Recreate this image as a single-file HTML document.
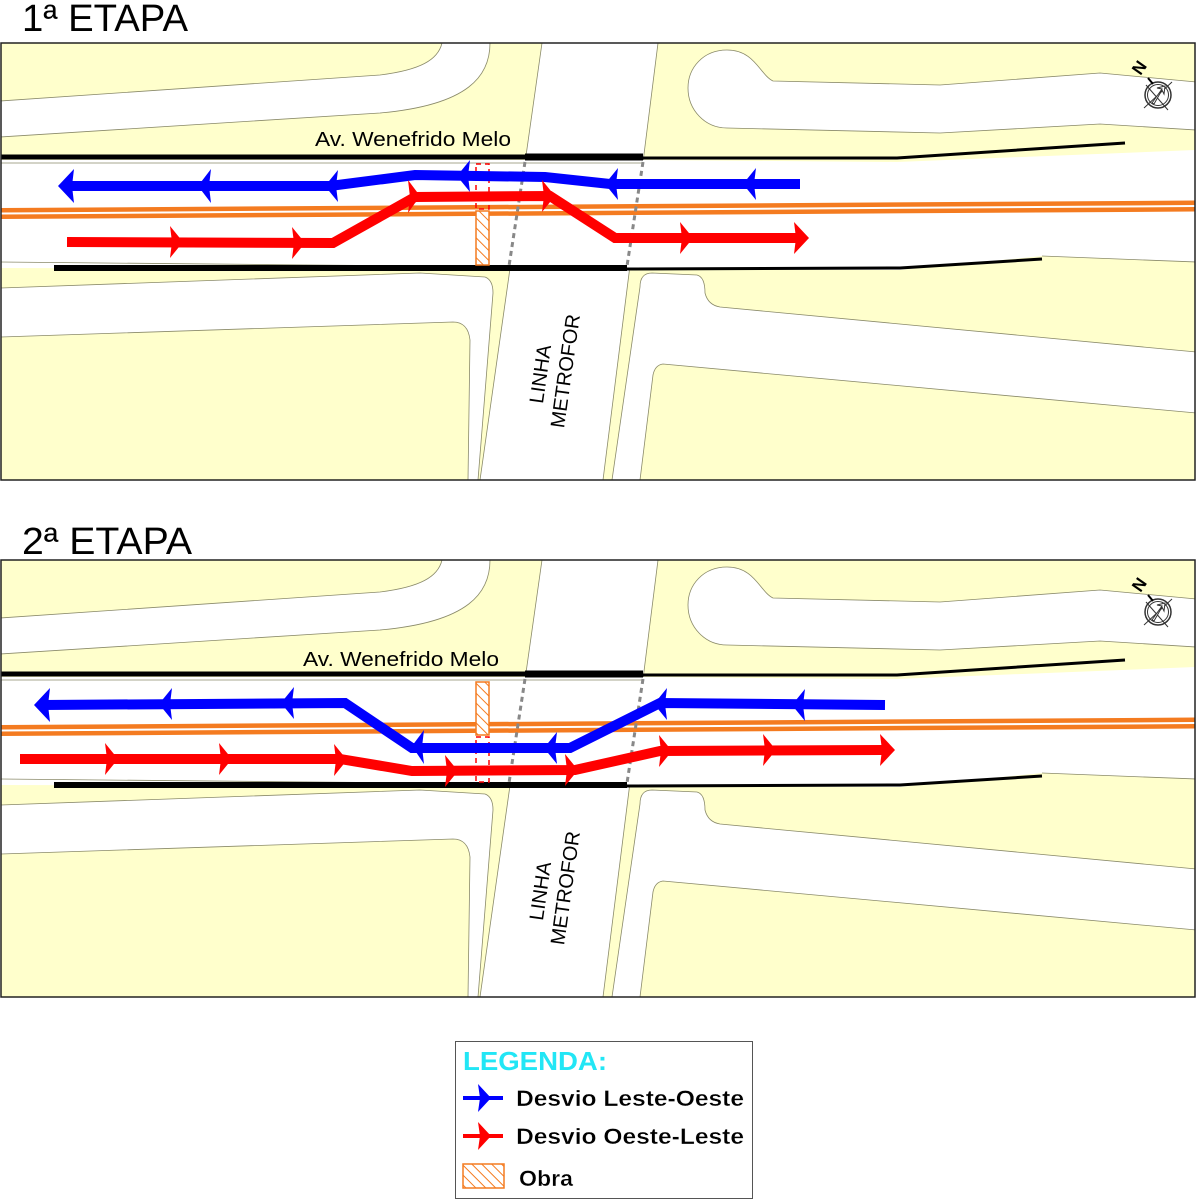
<!DOCTYPE html>
<html><head><meta charset="utf-8"><style>
html,body{margin:0;padding:0;background:#fff;}
svg{display:block;}
text{font-family:"Liberation Sans",sans-serif;}
</style></head><body>
<svg width="1197" height="1200" viewBox="0 0 1197 1200" xmlns="http://www.w3.org/2000/svg">
<defs>
<pattern id="hatch" width="7" height="7" patternUnits="userSpaceOnUse" patternTransform="rotate(-45)">
<rect width="7" height="7" fill="#fff"/>
<line x1="0" y1="0" x2="0" y2="7" stroke="#f47b20" stroke-width="2"/>
</pattern>
<clipPath id="pc"><rect x="1" y="43" width="1194" height="437"/></clipPath>
<g id="map">
<g clip-path="url(#pc)">
<rect x="1" y="43" width="1194" height="437" fill="#ffffcc"/>
<g fill="#fff" stroke="#8a8a6a" stroke-width="0.8">
<path d="M0,101 L380,75 C420,70 438,60 442,43 L490,43 C490,75 470,105 380,113 L0,137 Z"/>
<path d="M542,43 L658,43 L603,480 L480,480 Z"/>
<path d="M773,81 C760,75 755,50 727,50 C703,50 688,68 688,88 C688,110 705,128 727,128 L940,133 L1100,124 L1196,130 L1196,82 L1100,73 L940,85 Z"/>
<path d="M0,288 L420,273 L485,277 Q493,280 493,293 L478,480 L468,480 L470,340 Q468,322 453,322 L0,337 Z"/>
<path d="M640,287 Q640,273 652,273 L697,275 Q705,277 705,293 Q708,305 720,307 L1196,352 L1196,413 L663,364 Q655,365 653,375 L640,480 L612,480 Z"/>
<path d="M0,160 L643,160 L897,162 L1196,150 L1196,262 L1042,256 L900,270 L0,268 Z" stroke="none"/>
</g>
<line x1="0" y1="163" x2="643" y2="163" stroke="#8a8a6a" stroke-width="0.8"/>
<polyline points="0,262 420,266" fill="none" stroke="#8a8a6a" stroke-width="0.8"/>
<polyline points="1042,256 1196,262" fill="none" stroke="#8a8a6a" stroke-width="0.8"/>
<line x1="0" y1="213.5" x2="1196" y2="206" stroke="#f47b20" stroke-width="11"/>
<line x1="0" y1="213.5" x2="1196" y2="206" stroke="#fff" stroke-width="2"/>
<line x1="0" y1="157" x2="527" y2="157" stroke="#000" stroke-width="5"/>
<line x1="525" y1="157" x2="643" y2="157" stroke="#000" stroke-width="7"/>
<polyline points="643,158 897,158 1125,143" fill="none" stroke="#000" stroke-width="3"/>
<line x1="54" y1="268" x2="627" y2="268" stroke="#000" stroke-width="6"/>
<polyline points="627,269 900,268 1042,259" fill="none" stroke="#000" stroke-width="3"/>
<line x1="525" y1="162" x2="509" y2="266" stroke="#888" stroke-width="3" stroke-dasharray="5,4"/>
<line x1="643" y1="162" x2="627" y2="266" stroke="#888" stroke-width="3" stroke-dasharray="5,4"/>
<g transform="translate(1158,95)">
<circle r="13" fill="none" stroke="#333" stroke-width="1.5"/>
<circle r="10.5" fill="none" stroke="#333" stroke-width="1"/>
<line x1="-14" y1="13" x2="14" y2="-13" stroke="#333" stroke-width="1"/>
<line x1="-12" y1="-10" x2="10" y2="15" stroke="#333" stroke-width="1"/>
<path d="M-6,8 L4,-6 L-1,-7 L7,-9 L6,-1 L4,-5 L-4,9 Z" fill="#fff" stroke="#333" stroke-width="1"/>
<line x1="-10" y1="-17" x2="-5" y2="-11" stroke="#000" stroke-width="2"/>
<text x="0" y="0" transform="translate(-14,-24) rotate(-55)" font-size="17" font-weight="bold" text-anchor="middle">N</text>
</g>
</g>
<rect x="1" y="43" width="1194" height="437" fill="none" stroke="#222" stroke-width="1.5"/>
<text x="0" y="0" transform="translate(547,375) rotate(-82)" font-size="20" text-anchor="middle">LINHA</text>
<text x="0" y="0" transform="translate(572,372) rotate(-82)" font-size="20" text-anchor="middle">METROFOR</text>
</g>
</defs>

<text x="22" y="31" font-size="38" textLength="166" lengthAdjust="spacingAndGlyphs">1ª ETAPA</text>
<text x="22" y="554" font-size="38" textLength="170" lengthAdjust="spacingAndGlyphs">2ª ETAPA</text>

<use href="#map"/>
<use href="#map" transform="translate(0,517)"/>

<text x="315" y="146" font-size="20" textLength="196" lengthAdjust="spacingAndGlyphs">Av. Wenefrido Melo</text>
<text x="303" y="666" font-size="20" textLength="196" lengthAdjust="spacingAndGlyphs">Av. Wenefrido Melo</text>

<rect x="476" y="164" width="13" height="45" fill="none" stroke="#ff0000" stroke-width="1.5" stroke-dasharray="5,4"/>
<rect x="476" y="211" width="13" height="54" fill="url(#hatch)" stroke="#f47b20" stroke-width="1.5"/>
<rect x="476" y="682" width="13" height="53" fill="url(#hatch)" stroke="#f47b20" stroke-width="1.5"/>
<rect x="476" y="737" width="13" height="45" fill="none" stroke="#ff0000" stroke-width="1.5" stroke-dasharray="5,4"/>

<polyline points="800,184 610,184 545,177 415,175 330,186 66,186" fill="none" stroke="#0000ff" stroke-width="10"/>
<g fill="#0000ff">
<path d="M58,186 L74,169 L72,186 L74,203 Z"/>
<path d="M198,186 L211,169 L209,186 L211,203 Z"/>
<path d="M325,186 L338,170 L336,186 L338,202 Z"/>
<path d="M457,176 L470,160 L468,176 L470,192 Z"/>
<path d="M605,184 L618,168 L616,184 L618,200 Z"/>
<path d="M743,184 L756,168 L754,184 L756,200 Z"/>
</g>
<polyline points="67,242 333,243 415,197 550,196 615,238 796,238" fill="none" stroke="#ff0000" stroke-width="10"/>
<g fill="#ff0000">
<path d="M183,242 L170,226 L172,242 L170,258 Z"/>
<path d="M305,243 L292,227 L294,243 L292,259 Z"/>
<path d="M420,196 L408,180 L410,197 L408,213 Z"/>
<path d="M555,196 L542,180 L544,196 L542,212 Z"/>
<path d="M693,238 L680,222 L682,238 L680,254 Z"/>
<path d="M809,238 L794,222 L796,238 L794,254 Z"/>
</g>

<polyline points="885,705 660,703 570,748 412,748 345,703 42,705" fill="none" stroke="#0000ff" stroke-width="10"/>
<g fill="#0000ff">
<path d="M34,705 L50,688 L48,705 L50,722 Z"/>
<path d="M159,704 L172,688 L170,704 L172,720 Z"/>
<path d="M281,703 L294,687 L292,703 L294,719 Z"/>
<path d="M412,746 L424,730 L422,747 L424,764 Z"/>
<path d="M544,748 L557,732 L555,748 L557,764 Z"/>
<path d="M654,704 L667,688 L665,704 L667,720 Z"/>
<path d="M792,705 L805,689 L803,705 L805,721 Z"/>
</g>
<polyline points="20,759 340,759 412,771 575,770 660,751 882,750" fill="none" stroke="#ff0000" stroke-width="10"/>
<g fill="#ff0000">
<path d="M118,759 L105,743 L107,759 L105,775 Z"/>
<path d="M232,759 L219,743 L221,759 L219,775 Z"/>
<path d="M347,760 L334,744 L336,760 L334,776 Z"/>
<path d="M458,771 L445,755 L447,771 L445,787 Z"/>
<path d="M578,770 L565,754 L567,770 L565,786 Z"/>
<path d="M672,751 L659,735 L661,751 L659,767 Z"/>
<path d="M776,750 L763,734 L765,750 L763,766 Z"/>
<path d="M895,750 L880,734 L882,750 L880,766 Z"/>
</g>

<rect x="455.5" y="1041.5" width="297" height="157" fill="#fff" stroke="#555" stroke-width="1"/>
<text x="463" y="1070" font-size="26" font-weight="bold" fill="#22e6f5" textLength="144" lengthAdjust="spacingAndGlyphs">LEGENDA:</text>
<line x1="463" y1="1098" x2="503" y2="1098" stroke="#0000ff" stroke-width="4"/>
<path d="M491,1098 L478,1084 L480,1098 L478,1112 Z" fill="#0000ff"/>
<text x="516" y="1106" font-size="22" font-weight="bold" textLength="228" lengthAdjust="spacingAndGlyphs" stroke="#fff" stroke-width="0.3">Desvio Leste-Oeste</text>
<line x1="463" y1="1136" x2="503" y2="1136" stroke="#ff0000" stroke-width="4"/>
<path d="M491,1136 L478,1122 L480,1136 L478,1150 Z" fill="#ff0000"/>
<text x="516" y="1144" font-size="22" font-weight="bold" textLength="228" lengthAdjust="spacingAndGlyphs" stroke="#fff" stroke-width="0.3">Desvio Oeste-Leste</text>
<rect x="463" y="1164" width="41" height="24" fill="url(#hatch)" stroke="#f47b20" stroke-width="1.5"/>
<text x="519" y="1186" font-size="22" font-weight="bold" textLength="54" lengthAdjust="spacingAndGlyphs" stroke="#fff" stroke-width="0.3">Obra</text>
</svg>
</body></html>
